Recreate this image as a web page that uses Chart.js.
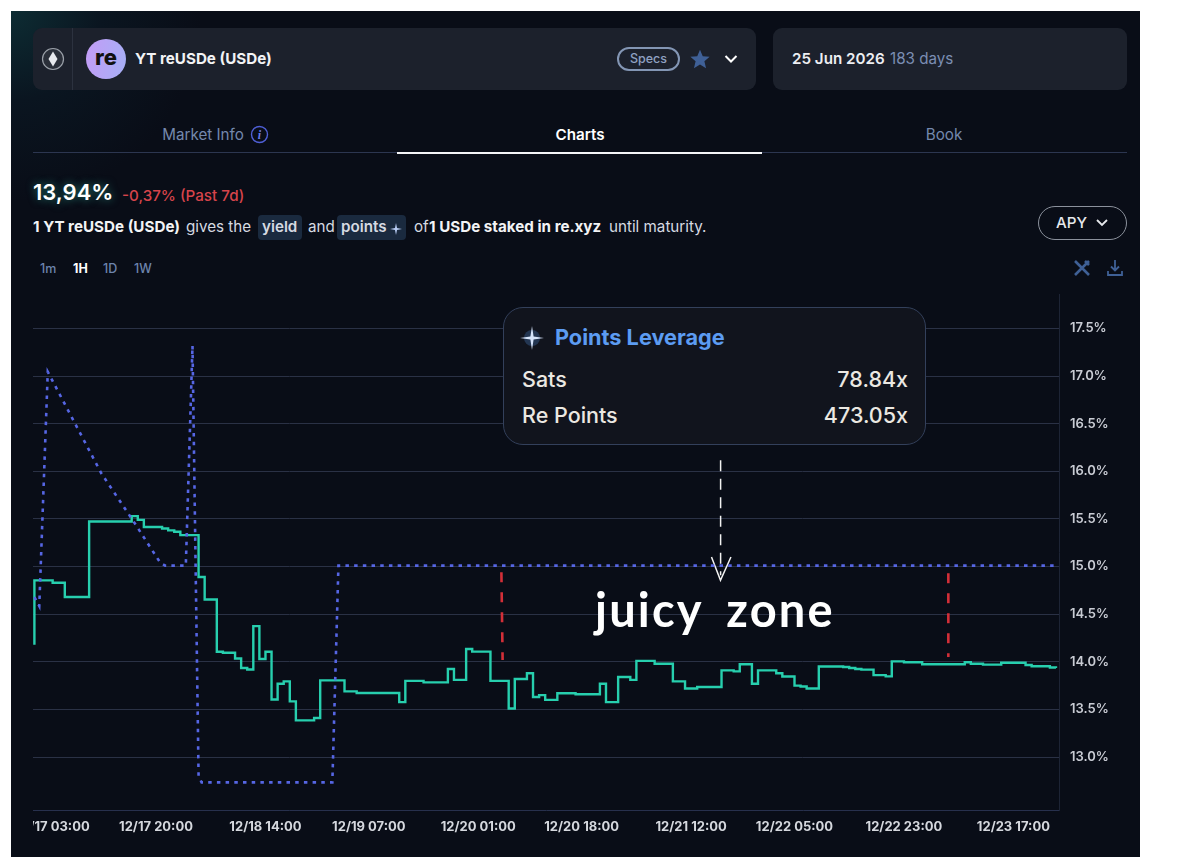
<!DOCTYPE html>
<html>
<head>
<meta charset="utf-8">
<title>YT reUSDe (USDe)</title>
<script src="https://cdn.jsdelivr.net/npm/chart.js@4"></script>
<style>
  html, body { margin: 0; padding: 0; background: #fff; }
  body { width: 1200px; height: 868px; position: relative; overflow: hidden; font-family: Inter, "Noto Sans", sans-serif; }
  #panel {
    position: absolute; left: 11px; top: 11px; width: 1129px; height: 846px;
    background: radial-gradient(circle at 0 0, #0d2c33 0, #0a1520 90px, #090d17 190px);
  }
  .abs { position: absolute; white-space: nowrap; line-height: 1; }
  .card { position: absolute; background: #1c212c; border-radius: 9px; top: 28px; height: 62px; }
  .t { font-size: 15.2px; color: #d6dae2; transform: translateY(-50%); }
  .b { font-weight: 700; color: #f2f3f5; }
  .tab { font-size: 15.2px; color: #7488ad; transform: translate(-50%, -50%); }
  .tf { font-size: 12.5px; color: #6d84ad; transform: translateY(-50%); font-weight: 500; }
  .badge { position: absolute; background: #1a2a3f; border-radius: 4px; top: 215px; height: 25px; }
  #chart { position: absolute; left: 33px; top: 294px; }
  #lev {
    position: absolute; left: 503px; top: 307px; width: 421px; height: 136px;
    background: #11141d; border: 1.5px solid #33405b; border-radius: 20px;
  }
  .row { font-size: 21.5px; color: #ebe8e2; font-weight: 500; transform: translateY(-50%); }
  #juicy {
    left: 595px; top: 586px; font-family: Lato, sans-serif; font-size: 47px; font-weight: 700;
    color: #fff; letter-spacing: 2.2px; word-spacing: 10px;
  }
</style>
</head>
<body>
<div id="panel"></div>

<div class="card" style="left:33px;width:723px"></div>
<div class="abs" style="left:72px;top:28px;width:1px;height:62px;background:#2c323f"></div>
<svg class="abs" style="left:41px;top:47px" width="24" height="24" viewBox="0 0 24 24">
  <circle cx="12" cy="12" r="10.5" fill="#2a2f39" stroke="#9aa0a8" stroke-width="1.2"/>
  <path d="M12 4.5 L16.5 12 L12 19.5 L7.5 12 Z" fill="#e8eaee"/>
</svg>
<div class="abs" style="left:86px;top:39px;width:40px;height:40px;border-radius:50%;background:linear-gradient(100deg,#c39cf6,#a6b0f6);color:#111;font-weight:800;font-size:22px;text-align:center;line-height:36px">re</div>
<div class="abs t b" style="left:135px;top:59px">YT reUSDe (USDe)</div>
<div class="abs" style="left:617px;top:47px;width:59px;height:20px;border:2px solid #8396b4;border-radius:12px;color:#8fa2c2;font-size:12.5px;font-weight:500;text-align:center;line-height:20px">Specs</div>
<svg class="abs" style="left:689px;top:48px" width="22" height="22" viewBox="0 0 24 24"><path d="M12 2 L15 9 L22.5 9.6 L16.8 14.5 L18.6 22 L12 18 L5.4 22 L7.2 14.5 L1.5 9.6 L9 9 Z" fill="#3f6096"/></svg>
<svg class="abs" style="left:724px;top:53px" width="14" height="12" viewBox="0 0 14 12"><path d="M1.5 3 L7 8.5 L12.5 3" fill="none" stroke="#fff" stroke-width="2"/></svg>

<div class="card" style="left:773px;width:354px"></div>
<div class="abs t" style="left:792px;top:59px;font-weight:600;color:#eceef2">25 Jun 2026</div>
<div class="abs t" style="left:890px;top:59px;color:#7b8eb3">183 days</div>

<div class="abs tab" style="left:203px;top:135px">Market Info</div>
<svg class="abs" style="left:250px;top:125px" width="19" height="19" viewBox="0 0 19 19">
  <circle cx="9.5" cy="9.5" r="8" fill="none" stroke="#4f5fd6" stroke-width="1.4"/>
  <text x="9.5" y="14" font-size="12" font-style="italic" font-weight="700" font-family="Liberation Serif" text-anchor="middle" fill="#6a7bea">i</text>
</svg>
<div class="abs tab" style="left:580px;top:135px;color:#fff;font-weight:600">Charts</div>
<div class="abs tab" style="left:944px;top:135px">Book</div>
<div class="abs" style="left:33px;top:152px;width:1094px;height:1px;background:#2c3650"></div>
<div class="abs" style="left:397px;top:152px;width:365px;height:2px;background:#f4f5f7"></div>

<div class="abs" style="left:33px;top:181px;font-size:22px;font-weight:600;color:#fff;text-shadow:0 0 8px rgba(60,220,190,.55)">13,94%</div>
<div class="abs" style="left:122px;top:188px;font-size:15.2px;font-weight:500;color:#d6444b">-0,37% (Past 7d)</div>

<div class="abs t b" style="left:33px;top:227px">1 YT reUSDe (USDe)</div>
<div class="abs t" style="left:186px;top:227px">gives the</div>
<div class="badge" style="left:258px;width:44px"></div>
<div class="abs t" style="left:262px;top:227px;font-weight:600">yield</div>
<div class="abs t" style="left:308px;top:227px">and</div>
<div class="badge" style="left:337px;width:69px"></div>
<div class="abs t" style="left:341px;top:227px;font-weight:600">points</div>
<svg class="abs" style="left:390px;top:223px" width="12" height="12" viewBox="0 0 12 12"><path d="M6 0 L7 5 L12 6 L7 7 L6 12 L5 7 L0 6 L5 5 Z" fill="#b9cdf5"/></svg>
<div class="abs t" style="left:414px;top:227px">of</div>
<div class="abs t b" style="left:429px;top:227px">1 USDe staked in re.xyz</div>
<div class="abs t" style="left:609px;top:227px">until maturity.</div>

<div class="abs" style="left:1038px;top:206px;width:87px;height:32px;border:1.5px solid #8b919c;border-radius:18px"></div>
<div class="abs t" style="left:1056px;top:223px;color:#e6e8ec;font-weight:500">APY</div>
<svg class="abs" style="left:1095px;top:218px" width="14" height="10" viewBox="0 0 14 10"><path d="M2 2 L7 7 L12 2" fill="none" stroke="#e6e8ec" stroke-width="1.8"/></svg>

<div class="abs tf" style="left:40px;top:269px">1m</div>
<div class="abs tf" style="left:73px;top:269px;color:#fff;font-weight:700">1H</div>
<div class="abs tf" style="left:103px;top:269px">1D</div>
<div class="abs tf" style="left:134px;top:269px">1W</div>
<svg class="abs" style="left:1073px;top:259px" width="18" height="18" viewBox="0 0 18 18"><path d="M2 2 L16 16 M16 2 L2 16 M12 2 L16 6" fill="none" stroke="#3f6096" stroke-width="2.6"/></svg>
<svg class="abs" style="left:1106px;top:259px" width="18" height="18" viewBox="0 0 18 18"><path d="M9 1 V11 M5 7.5 L9 11.5 L13 7.5 M2 12 V16 H16 V12" fill="none" stroke="#3f6096" stroke-width="1.8"/></svg>

<canvas id="chart" width="1094" height="557" style="width:1094px;height:557px"></canvas>

<div id="lev"></div>
<svg class="abs" style="left:519px;top:325px" width="26" height="26" viewBox="0 0 26 26">
  <circle cx="13" cy="13" r="8" fill="#5b9cf5" opacity=".25"/>
  <path d="M13 1 L14.6 11.4 L25 13 L14.6 14.6 L13 25 L11.4 14.6 L1 13 L11.4 11.4 Z" fill="#d5e4fb"/>
</svg>
<div class="abs" style="left:555px;top:338px;transform:translateY(-50%);font-size:21.7px;font-weight:700;color:#5c9cf2">Points Leverage</div>
<div class="abs row" style="left:522px;top:380px">Sats</div>
<div class="abs row" style="right:292px;top:380px">78.84x</div>
<div class="abs row" style="left:522px;top:416px">Re Points</div>
<div class="abs row" style="right:292px;top:416px">473.05x</div>

<div class="abs" id="juicy">juicy zone</div>

<script>
// hours counted from 12/17 00:00
const tickHours = [3, 20, 38, 55, 73, 90, 108, 125, 143, 161];
const tickLabels = ['12/17 03:00', '12/17 20:00', '12/18 14:00', '12/19 07:00', '12/20 01:00',
  '12/20 18:00', '12/21 12:00', '12/22 05:00', '12/22 23:00', '12/23 17:00'];
const yTicks = [13, 13.5, 14, 14.5, 15, 15.5, 16, 16.5, 17, 17.5];

// implied APY, one entry per step
const apyHours = [0, 0, 3, 5, 9, 16, 17, 18, 21, 22, 23, 24, 27, 28, 30, 31, 33, 34, 35, 36, 37, 38, 39, 40,
  41, 42, 43, 46, 47, 51, 53, 60, 61, 64, 68, 69, 71, 72, 75, 78, 79, 81, 82, 83, 84, 86, 89, 93, 94, 96,
  98, 99, 102, 105, 107, 109, 113, 115, 116, 118, 119, 122, 123, 125, 126, 127, 129, 133, 134, 135, 136,
  138, 140, 141, 143, 146, 153, 154, 156, 159, 163, 164, 167, 168];
const apyValues = [14.18, 14.855, 14.83, 14.68, 15.474, 15.53, 15.49, 15.415, 15.40, 15.38, 15.365, 15.33,
  14.89, 14.655, 14.105, 14.095, 14.035, 13.935, 13.92, 14.375, 14.03, 14.105, 13.605, 13.77, 13.795,
  13.585, 13.385, 13.41, 13.805, 13.69, 13.672, 13.577, 13.80, 13.784, 13.925, 13.81, 14.135, 14.107,
  13.80, 13.51, 13.82, 13.88, 13.63, 13.65, 13.60, 13.67, 13.66, 13.77, 13.577, 13.84, 13.81, 14.01,
  13.98, 13.795, 13.72, 13.735, 13.91, 13.90, 13.975, 13.77, 13.91, 13.88, 13.845, 13.75, 13.74, 13.72,
  13.95, 13.945, 13.935, 13.925, 13.918, 13.86, 13.847, 14.005, 13.995, 13.975, 13.995, 13.98, 13.97,
  13.99, 13.967, 13.953, 13.94, 13.935];

// dotted blue overlay
const blueHours = [0, 0.8, 2.2, 11, 16.5, 20.7, 21.5, 24.9, 26, 27, 27.5, 49, 50, 168];
const blueValues = [14.68, 14.585, 17.045, 15.98, 15.455, 15.04, 15.01, 15.01, 17.32, 12.8, 12.734, 12.734, 15.01, 15.01];

// hand drawn marks on top of the chart
const zoneLeftHours = [76.8, 77];
const zoneLeftValues = [14.94, 14.02];
const zoneRightHours = [150.3, 150.3];
const zoneRightValues = [14.93, 14.05];
const arrowHours = [112.85, 112.85];
const arrowValues = [16.116, 14.91];
const arrowHeadHours = [111.35, 112.83, 114.55];
const arrowHeadValues = [15.10, 14.857, 15.10];

function toPoints(xs, ys) {
  return xs.map((x, i) => ({ x: x, y: ys[i] }));
}

new Chart(document.getElementById('chart'), {
  type: 'line',
  data: {
    datasets: [
      { data: toPoints(blueHours, blueValues), borderColor: '#5666e4', borderWidth: 2.6, borderDash: [3.5, 5.2], pointRadius: 0, tension: 0 },
      { data: toPoints(apyHours, apyValues), borderColor: '#27cfae', borderWidth: 2.4, stepped: true, pointRadius: 0 },
      { data: toPoints(zoneLeftHours, zoneLeftValues), borderColor: '#d32f38', borderWidth: 2.6, borderDash: [10, 10], pointRadius: 0 },
      { data: toPoints(zoneRightHours, zoneRightValues), borderColor: '#d32f38', borderWidth: 2.6, borderDash: [10, 10], pointRadius: 0 },
      { data: toPoints(arrowHours, arrowValues), borderColor: '#f2f2f2', borderWidth: 1.5, borderDash: [11, 7.5], pointRadius: 0 },
      { data: toPoints(arrowHeadHours, arrowHeadValues), borderColor: '#f2f2f2', borderWidth: 1.5, pointRadius: 0 }
    ]
  },
  options: {
    responsive: false,
    animation: false,
    layout: { padding: 0 },
    plugins: { legend: { display: false }, tooltip: { enabled: false } },
    scales: {
      x: {
        type: 'linear',
        min: -0.23,
        max: 168.5,
        grid: { display: false },
        border: { color: '#27304d', width: 1 },
        afterBuildTicks: function (scale) {
          scale.ticks = tickHours.map(h => ({ value: h }));
        },
        afterFit: function (scale) {
          scale.paddingLeft = 0;
          scale.paddingRight = 0;
          scale.height = 41;
        },
        ticks: {
          autoSkip: false,
          maxRotation: 0,
          padding: 1,
          color: '#d5d8de',
          font: { family: 'Inter', size: 13, weight: '700' },
          callback: function (value) {
            return tickLabels[tickHours.indexOf(value)];
          }
        }
      },
      y: {
        position: 'right',
        min: 12.444,
        max: 17.862,
        grid: { color: '#2a3145', drawTicks: false },
        border: { color: '#1d2435', width: 1 },
        afterBuildTicks: function (scale) {
          scale.ticks = yTicks.map(v => ({ value: v }));
        },
        afterFit: function (scale) {
          scale.paddingTop = 0;
          scale.paddingBottom = 0;
          scale.width = 68;
        },
        ticks: {
          padding: 11,
          color: '#c9ccd4',
          font: { family: 'Inter', size: 13, weight: '600' },
          callback: function (value) {
            return value.toFixed(1) + '%';
          }
        }
      }
    }
  }
});
</script>
</body>
</html>
